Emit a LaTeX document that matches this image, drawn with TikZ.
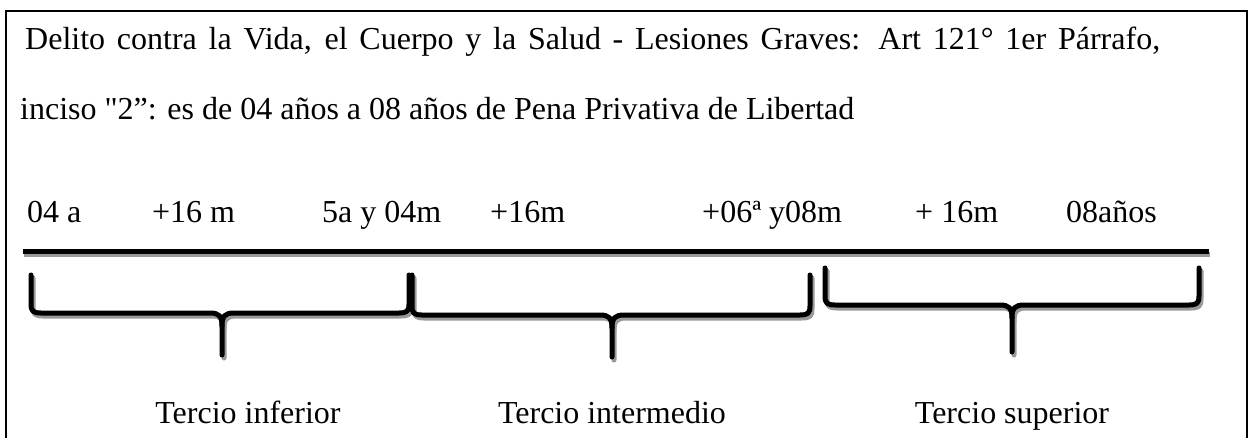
\documentclass[tikz,border=0pt]{standalone}
\usepackage{fontspec}
\setmainfont{Liberation Serif}[Ligatures=TeXOff]
\begin{document}
\begin{tikzpicture}[x=1pt,y=-1pt,
  txt/.style={anchor=base west,inner sep=0pt,font=\fontsize{32}{38}\selectfont},
  lbl/.style={anchor=base,inner sep=0pt,font=\fontsize{32}{38}\selectfont},
  bar/.style={line width=5pt},
  barshadow/.style={line width=5pt,draw=black!40},
  brace/.style={line width=5pt,line join=round,line cap=round},
  braceshadow/.style={brace,draw=black!40}]
\useasboundingbox (0,0) rectangle (1254,437);
% frame (open at the bottom)
\draw[line width=2.5pt] (6,445) -- (6,11) -- (1247,11) -- (1247,445);
% texts
\node[txt] (t1) at (25,49) {\makebox[1135pt][s]{Delito contra la Vida, el Cuerpo y la Salud - Lesiones Graves: Art 121° 1er Párrafo,}};
\node[txt] (t2) at (20,119) {inciso "2”: es de 04 años a 08 años de Pena Privativa de Libertad};
\node[txt] (n1) at (27,222) {04 a};
\node[txt] (n2) at (152,222) {+16 m};
\node[txt] (n3) at (322,222) {5a y 04m};
\node[txt] (n4) at (490,222) {+16m};
\node[txt] (n5) at (702,222) {+06ª y08m};
\node[txt] (n6) at (915,222) {+ 16m};
\node[txt] (n7) at (1066,222) {08años};
% timeline
\coordinate (la) at (23,251);
\coordinate (lb) at (1209,251);
\draw[barshadow] ([shift={(1,3)}]la) -- ([shift={(1,3)}]lb);
\draw[bar] (la) -- (lb);
% braces: x1, x2, mid, top, horizontal, tip, style
\newcommand{\mybrace}[7]{%
  \draw[#7] (#1,#4) -- (#1,#5-9) .. controls (#1,#5-2) and (#1+2,#5) .. (#1+10,#5)
     -- (#3-12,#5) .. controls (#3-3,#5) and (#3,#5+3) .. (#3,#5+13) -- (#3,#6);
  \draw[#7] (#3,#5+13) .. controls (#3,#5+3) and (#3+3,#5) .. (#3+12,#5)
     -- (#2-10,#5) .. controls (#2-2,#5) and (#2,#5-2) .. (#2,#5-9) -- (#2,#4);}
\begin{scope}[shift={(2,3)}]
\mybrace{31}{409}{222}{275}{313}{355}{braceshadow}
\mybrace{412}{810}{612}{275}{315}{357}{braceshadow}
\mybrace{825}{1199}{1012}{268}{305}{352}{braceshadow}
\end{scope}
\mybrace{31}{409}{222}{275}{313}{355}{brace}
\mybrace{412}{810}{612}{275}{315}{357}{brace}
\mybrace{825}{1199}{1012}{268}{305}{352}{brace}
% labels
\node[lbl] (l1) at (248,423) {Tercio inferior};
\node[lbl] (l2) at (612,423) {Tercio intermedio};
\node[lbl] (l3) at (1012,423) {Tercio superior};
\end{tikzpicture}
\end{document}
